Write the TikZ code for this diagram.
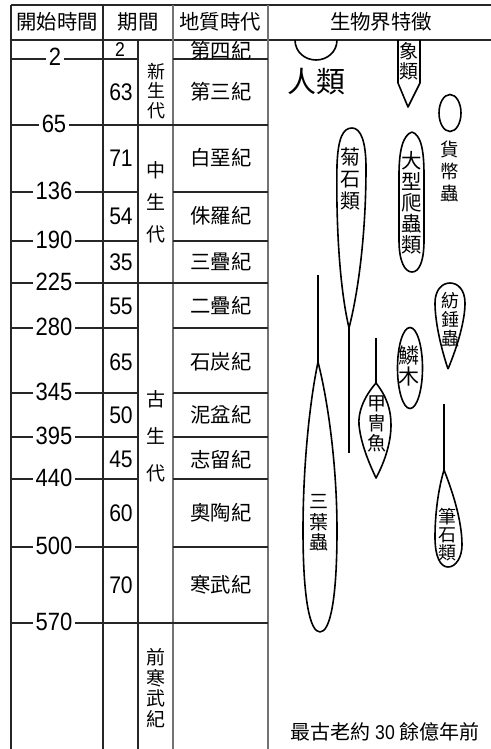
\documentclass[tikz,border=0pt]{standalone}
\usepackage{fontspec}
\setmainfont{Noto Sans CJK TC}
\newfontfamily\numfont[FakeStretch=0.88]{Liberation Sans}
\usepackage{tikz}
\usetikzlibrary{shapes.geometric}

\tikzset{
	rule/.style={line width=0.55pt,black!85},
	softrule/.style={line width=0.55pt,black!55},
	hdr/.style={inner sep=0pt,font=\fontsize{10.2}{12}\selectfont},
	tick/.style={fill=white,inner sep=1.2pt,font=\numfont\fontsize{12.5}{13}\selectfont},
	dur/.style={inner sep=0pt,font=\numfont\fontsize{12}{13}\selectfont},
	prd/.style={inner sep=0pt,font=\fontsize{10.2}{12}\selectfont},
	era/.style={align=center,inner sep=0pt},
	bio/.style={line width=0.8pt,line join=round},
	biotxt/.style={align=center,inner sep=0pt},
}

\begin{document}
\begin{tikzpicture}[x=0.5pt,y=-0.5pt]
	\useasboundingbox (0,0) rectangle (491,749);
	% header and columns
	\draw[rule] (11,5) -- (491,5);
	\draw[rule] (11,40) -- (491,40);
	\draw[rule] (11,5) -- (11,749);
	\draw[rule] (103,5) -- (103,749);
	\draw[rule] (138,40) -- (138,749);
	\draw[softrule] (173,5) -- (173,749);
	\draw[softrule] (268,5) -- (268,749);
	\node[hdr] (hstart) at (57,22) {開始時間};
	\node[hdr] (hdur) at (138,22) {期間};
	\node[hdr] (hage) at (220,22) {地質時代};
	\node[hdr] (hlife) at (381,22) {生物界特徵};
	% period rows
	\draw[rule] (11,59) -- (138,59) (173,59) -- (268,59);
	\draw[rule] (11,125) -- (268,125);
	\draw[rule] (11,192) -- (138,192) (173,192) -- (268,192);
	\draw[rule] (11,241) -- (138,241) (173,241) -- (268,241);
	\draw[rule] (11,283) -- (268,283);
	\draw[rule] (11,328) -- (138,328) (173,328) -- (268,328);
	\draw[rule] (11,393) -- (138,393) (173,393) -- (268,393);
	\draw[rule] (11,437) -- (138,437) (173,437) -- (268,437);
	\draw[rule] (11,479) -- (138,479) (173,479) -- (268,479);
	\draw[rule] (11,547) -- (138,547) (173,547) -- (268,547);
	\draw[rule] (11,623) -- (268,623);
	% start times
	\node[tick] (t2) at (55,57) {2};
	\node[tick] (t65) at (54,124) {65};
	\node[tick] (t136) at (54,191) {136};
	\node[tick] (t190) at (54,240) {190};
	\node[tick] (t225) at (54,282) {225};
	\node[tick] (t280) at (54,327) {280};
	\node[tick] (t345) at (54,392) {345};
	\node[tick] (t395) at (54,436) {395};
	\node[tick] (t440) at (54,478) {440};
	\node[tick] (t500) at (54,546) {500};
	\node[tick] (t570) at (54,622) {570};
	% durations
	\node[dur,font=\numfont\fontsize{10}{11}\selectfont] (d2) at (120,50) {2};
	\node[dur] (d63) at (121,92) {63};
	\node[dur] (d71) at (121,158) {71};
	\node[dur] (d54) at (121,216) {54};
	\node[dur] (d35) at (121,262) {35};
	\node[dur] (d55) at (121,306) {55};
	\node[dur] (d65) at (121,362) {65};
	\node[dur] (d50) at (121,415) {50};
	\node[dur] (d45) at (121,459) {45};
	\node[dur] (d60) at (121,513) {60};
	\node[dur] (d70) at (121,585) {70};
	% eras
	\node[era,font=\fontsize{9}{9.6}\selectfont] (cenozoic) at (156,91) {新\\生\\代};
	\node[era,font=\fontsize{9.5}{16}\selectfont] (mesozoic) at (156,202) {中\\生\\代};
	\node[era,font=\fontsize{9.5}{18.5}\selectfont] (paleozoic) at (156,436) {古\\生\\代};
	\node[era,font=\fontsize{9.5}{10.2}\selectfont] (precamb) at (156,688) {前\\寒\\武\\紀};
	% periods
	\node[prd] (quat) at (221,51) {第四紀};
	\node[prd] (tert) at (221,92) {第三紀};
	\node[prd] (cret) at (221,158) {白堊紀};
	\node[prd] (jura) at (221,216) {侏羅紀};
	\node[prd] (tria) at (221,262) {三疊紀};
	\node[prd] (perm) at (221,306) {二疊紀};
	\node[prd] (carb) at (221,362) {石炭紀};
	\node[prd] (devo) at (221,415) {泥盆紀};
	\node[prd] (silu) at (221,460) {志留紀};
	\node[prd] (ordo) at (221,513) {奧陶紀};
	\node[prd] (camb) at (221,585) {寒武紀};
	% life forms
	\draw[bio] (295,40) .. controls (295,52) and (305,60) .. (316,60) .. controls (327,60) and (337,52) .. (337,40);
	\node[inner sep=0pt,font=\fontsize{14.5}{16}\selectfont] (human) at (316,82) {人類};
	\coordinate (elephtip) at (408,107);
	\draw[bio] (398,40) -- (398,83) -- (elephtip) -- (420,83) -- (420,40);
	\node[biotxt,font=\fontsize{9.5}{10}\selectfont] (eleph) at (409,61) {象\\類};
	\node[draw,bio,ellipse,inner sep=0pt,minimum width=11pt,minimum height=18.5pt] (numcell) at (450,113) {};
	\node[biotxt,font=\fontsize{9.2}{11}\selectfont] (numtxt) at (450,171) {貨\\幣\\蟲};
	\coordinate (ammtip) at (349,328);
	\draw[bio] (ammtip) .. controls (339,285) and (336,220) .. (337,165) .. controls (338,138) and (343,128) .. (352,128) .. controls (361,128) and (366,142) .. (366,168) .. controls (366,225) and (360,285) .. (ammtip);
	\draw[bio] (ammtip) -- (349,453);
	\node[biotxt,font=\fontsize{10}{11}\selectfont] (ammo) at (350,179) {菊\\石\\類};
	\draw[bio] (412,132) .. controls (403,135) and (399,150) .. (399,175) -- (399,240) .. controls (399,262) and (405,272) .. (412,272) .. controls (419,272) and (424,262) .. (424,240) -- (424,175) .. controls (424,150) and (421,135) .. (412,132);
	\node[biotxt,font=\fontsize{10.2}{10.5}\selectfont] (reptile) at (412,203) {大\\型\\爬\\蟲\\類};
	\coordinate (fustip) at (448,369);
	\draw[bio] (fustip) .. controls (440,345) and (435,320) .. (435,303) .. controls (435,290) and (442,283) .. (450,283) .. controls (458,283) and (465,290) .. (465,303) .. controls (465,320) and (458,345) .. (fustip);
	\node[biotxt,font=\fontsize{9}{9.5}\selectfont] (fusu) at (450,320) {紡\\錘\\蟲};
	\node[draw,bio,ellipse,inner sep=0pt,minimum width=12.5pt,minimum height=40.5pt] (lepid) at (410,368) {};
	\node[biotxt,font=\fontsize{10.5}{10.5}\selectfont] (lepidtxt) at (409,366) {鱗\\木};
	\coordinate (fishtop) at (376,383);
	\coordinate (fishtip) at (376,478);
	\draw[bio] (fishtop) .. controls (363,398) and (358,413) .. (359,425) .. controls (361,445) and (370,465) .. (fishtip) .. controls (383,465) and (391,445) .. (391,425) .. controls (391,410) and (387,397) .. (fishtop);
	\draw[bio] (376,338) -- (fishtop);
	\node[biotxt,font=\fontsize{9.5}{10}\selectfont] (fish) at (377,424) {甲\\冑\\魚};
	\coordinate (trilotop) at (318,362);
	\draw[bio] (trilotop) .. controls (309,405) and (303,470) .. (303,530) .. controls (303,600) and (310,632) .. (320,632) .. controls (330,632) and (337,600) .. (337,530) .. controls (337,470) and (329,405) .. (trilotop);
	\draw[bio] (318,275) -- (trilotop);
	\node[biotxt,font=\fontsize{9.5}{10.3}\selectfont] (trilo) at (319,523) {三\\葉\\蟲};
	\coordinate (grapttop) at (444,470);
	\draw[bio] (grapttop) .. controls (438,490) and (435,515) .. (435,537) .. controls (435,556) and (440,567) .. (448,567) .. controls (456,567) and (462,557) .. (462,545) .. controls (462,520) and (452,490) .. (grapttop);
	\draw[bio] (444,404) -- (grapttop);
	\node[biotxt,font=\fontsize{9}{9}\selectfont] (grapt) at (447,535) {筆\\石\\類};
	\node[inner sep=0pt,font=\fontsize{10}{12}\selectfont] (oldest) at (385,732) {最古老約 {\numfont 30} 餘億年前};
\end{tikzpicture}
\end{document}
